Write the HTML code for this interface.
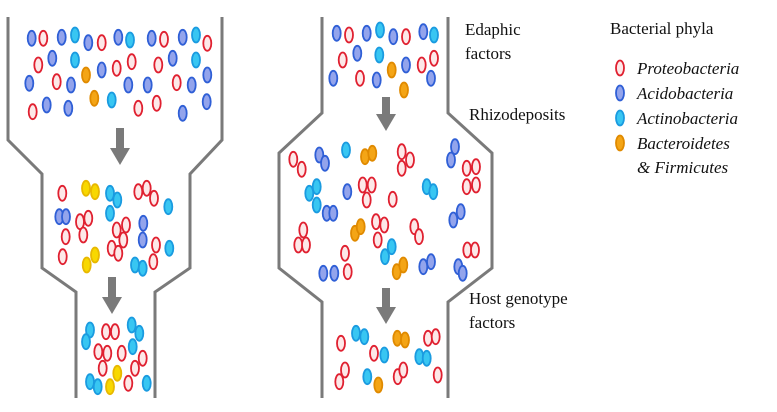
<!DOCTYPE html>
<html><head><meta charset="utf-8"><style>
html,body{margin:0;padding:0;background:#fff;}
svg{display:block;}
text{font-family:"Liberation Serif",serif;font-size:17px;fill:#111;}
</style></head><body>
<svg id="s" width="777" height="412" viewBox="0 0 777 412" xmlns="http://www.w3.org/2000/svg">
<g fill="none" stroke="#7a7a7a" stroke-width="3">
<polyline points="8,17 8,140 42,174 42,268 76,292 76,398"/>
<polyline points="222,17 222,140 190,174 190,268 155,292 155,398"/>
<polyline points="322,17 322,113 279,153 279,268 322,302 322,398"/>
<polyline points="448,17 448,113 492,153 492,268 448,302 448,398"/>
</g>
<g fill="#7a7a7a">
<rect x="116" y="128" width="8" height="20"/><polygon points="110,148 130,148 120,165"/>
<rect x="108" y="277" width="8" height="20"/><polygon points="102,297 122,297 112,314"/>
<rect x="382" y="97" width="8" height="18"/><polygon points="376,114 396,114 386,131"/>
<rect x="382" y="288" width="8" height="20"/><polygon points="376,307 396,307 386,324"/>
</g>
<g id="e"></g>
<text x="465" y="35">Edaphic</text>
<text x="465" y="59">factors</text>
<text x="469" y="120">Rhizodeposits</text>
<text x="469" y="304">Host genotype</text>
<text x="469" y="328">factors</text>
<text x="610" y="34">Bacterial phyla</text>
<g font-style="italic">
<text x="637" y="74" font-style="italic">Proteobacteria</text>
<text x="637" y="99" font-style="italic">Acidobacteria</text>
<text x="637" y="124" font-style="italic">Actinobacteria</text>
<text x="637" y="149" font-style="italic">Bacteroidetes</text>
<text x="637" y="173" font-style="italic">&amp; Firmicutes</text>
</g>
</svg>
<script>
var C={r:['#fde8e8','#e02030'],b:['#93a4ec','#2f5fd6'],c:['#38c6f2','#1a9be0'],o:['#f4a516','#e08a00'],y:['#f8d800','#e8b800']};
var L=[
// left top
['b',95,115],['r',130,115],['b',185,112],['c',225,105],['b',265,128],['r',305,128],['b',355,112],['c',390,120],['b',455,115],['r',492,118],['b',548,112],['c',588,105],['r',622,130],
['r',115,195],['b',157,175],['c',225,180],['o',258,225],['b',305,210],['r',350,205],['r',395,185],['r',475,195],['b',518,175],['c',588,180],['b',622,225],
['b',88,250],['r',170,245],['b',213,255],['b',385,255],['b',443,255],['r',530,248],['b',575,255],
['r',98,335],['b',140,315],['b',205,325],['o',283,295],['c',335,300],['r',415,325],['r',470,310],['b',548,340],['b',620,305],
// left middle
['r',187,580],['y',258,565],['y',285,575],['c',330,580],['c',352,600],['c',330,640],['r',415,575],['r',440,565],['r',462,595],['c',505,620],['b',178,650],['b',198,650],['r',240,665],['r',265,655],['r',250,705],['r',197,710],['r',188,770],['y',285,765],['y',260,795],['r',335,745],['r',350,690],['r',378,675],['r',370,720],['r',355,760],['b',430,670],['b',428,720],['r',468,735],['r',460,785],['c',508,745],['c',405,795],['c',428,805],
// left bottom
['c',270,990],['c',258,1025],['r',318,995],['r',345,995],['c',395,975],['c',418,1000],['c',398,1040],['r',295,1055],['r',322,1060],['r',365,1060],['r',308,1105],['r',428,1075],['r',405,1105],['r',385,1150],['y',352,1120],['y',330,1160],['c',270,1145],['c',293,1160],['c',440,1150]
];
var R=[
['b',200,100],['r',237,105],['b',290,100],['c',330,90],['b',370,110],['r',408,110],['b',460,95],['c',492,105],['r',218,180],['b',262,160],['c',328,165],['o',365,210],['b',408,195],['r',455,195],['r',492,175],['b',190,235],['r',270,235],['b',320,240],['b',483,235],['o',402,270],
['r',70,478],['r',95,508],['b',148,465],['b',165,490],['c',228,450],['o',285,470],['o',307,460],['r',395,455],['r',420,480],['r',395,505],['b',555,440],['b',543,480],['r',590,505],['r',618,500],['r',590,560],['r',618,555],['c',118,580],['c',140,560],['c',140,615],['b',170,640],['b',190,640],['b',232,575],['r',278,555],['r',305,555],['r',290,600],['r',368,598],['c',470,560],['c',490,575],['b',572,635],['b',550,660],['r',100,690],['r',85,735],['r',108,735],['o',255,700],['o',272,680],['r',318,665],['r',343,675],['r',323,720],['r',433,680],['r',447,710],['c',345,770],['c',365,740],['r',225,760],['r',233,815],['b',160,820],['b',193,820],['o',380,815],['o',400,795],['b',460,800],['b',483,785],['b',565,800],['b',578,820],['r',592,750],['r',615,750],
['c',258,1000],['c',283,1010],['o',382,1015],['o',405,1020],['r',474,1015],['r',497,1010],['r',213,1030],['r',312,1060],['c',343,1065],['c',448,1070],['c',470,1075],['r',225,1110],['r',208,1145],['c',292,1130],['o',325,1155],['r',383,1130],['r',400,1110],['r',503,1125]
];
var h='';
function add(t,x,y){var c=C[t];h+='<ellipse cx="'+x.toFixed(1)+'" cy="'+y.toFixed(1)+'" rx="4" ry="7.5" fill="'+c[0]+'" stroke="'+c[1]+'" stroke-width="1.8"/>';}
L.forEach(function(a){add(a[0],a[1]/3,a[2]/3);});
R.forEach(function(a){add(a[0],a[1]/3+270,a[2]/3);});
add('r',620,68);add('b',620,93);add('c',620,118);add('o',620,143);
document.getElementById('e').innerHTML=h;
</script>
</body></html>
